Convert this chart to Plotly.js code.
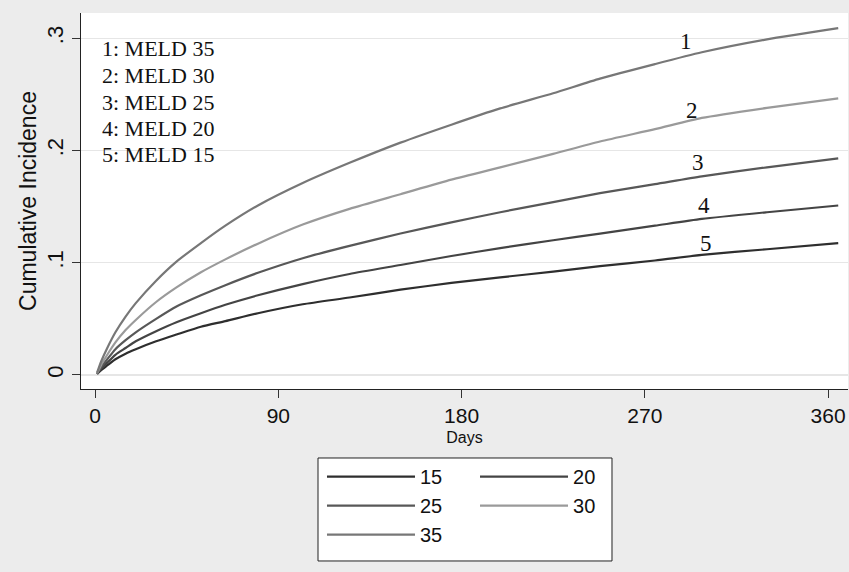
<!DOCTYPE html>
<html>
<head>
<meta charset="utf-8">
<script src="https://cdn.plot.ly/plotly-3.0.1.min.js"></script>
<style>
  html, body { margin: 0; padding: 0; background: #ececec; }
  #chart { width: 849px; height: 572px; }
</style>
</head>
<body>
<div id="chart"></div>
<script>
// Days at which the curves were read
const days = [1, 3, 6, 10, 15, 20, 30, 40, 52, 64, 80, 102, 125, 150, 175, 199, 225, 248, 275, 298, 330, 365];

// Cumulative incidence by MELD score
const meld15 = [0.0008, 0.0043, 0.0085, 0.014, 0.019, 0.023, 0.030, 0.036, 0.043, 0.048, 0.055, 0.063, 0.069, 0.076, 0.082, 0.087, 0.092, 0.097, 0.102, 0.107, 0.112, 0.1175];
const meld20 = [0.001, 0.0055, 0.011, 0.018, 0.024, 0.030, 0.039, 0.047, 0.055, 0.0625, 0.071, 0.081, 0.090, 0.098, 0.106, 0.113, 0.120, 0.126, 0.133, 0.139, 0.145, 0.151];
const meld25 = [0.0012, 0.007, 0.014, 0.023, 0.031, 0.038, 0.050, 0.061, 0.071, 0.080, 0.091, 0.104, 0.115, 0.126, 0.136, 0.145, 0.154, 0.162, 0.170, 0.177, 0.185, 0.193];
const meld30 = [0.0015, 0.009, 0.018, 0.029, 0.040, 0.049, 0.065, 0.078, 0.0915, 0.103, 0.117, 0.134, 0.148, 0.161, 0.174, 0.185, 0.197, 0.208, 0.219, 0.229, 0.238, 0.2465];
const meld35 = [0.002, 0.012, 0.024, 0.038, 0.052, 0.064, 0.084, 0.101, 0.1175, 0.133, 0.151, 0.171, 0.189, 0.207, 0.223, 0.2375, 0.251, 0.264, 0.277, 0.2875, 0.299, 0.309];

const seriesNames = ['15', '20', '25', '30', '35'];
const seriesValues = [meld15, meld20, meld25, meld30, meld35];
const seriesColors = ['#2e2e2e', '#444444', '#585858', '#9a9a9a', '#777777'];
// key column of each series (two-column key: 15 20 / 25 30 / 35)
const seriesKey = ['legend', 'legend2', 'legend', 'legend2', 'legend'];

// Curve number labels (placed just above each curve)
const curveLabels = ['1', '2', '3', '4', '5'];
const curveLabelX = [290, 293, 296, 299, 300];
const curveLabelY = [0.297, 0.2355, 0.189, 0.151, 0.1167];

// Key text
const keyLines = ['1: MELD 35', '2: MELD 30', '3: MELD 25', '4: MELD 20', '5: MELD 15'];
const keyY = [0.2905, 0.267, 0.2432, 0.2196, 0.196];

const yTickVals = [0, 0.1, 0.2, 0.3];
const yTickText = ['0', '.1', '.2', '.3'];
const xTickVals = [0, 90, 180, 270, 360];

const traces = seriesNames.map((n, i) => ({
  type: 'scatter',
  mode: 'lines',
  name: n,
  legend: seriesKey[i],
  x: days,
  y: seriesValues[i],
  line: { color: seriesColors[i], width: 2.2, shape: 'spline', smoothing: 0.6 },
  hoverinfo: 'x+y+name'
}));

const annotations = [];
curveLabels.forEach((t, i) => annotations.push({
  x: curveLabelX[i], y: curveLabelY[i], xref: 'x', yref: 'y',
  text: t, showarrow: false, xanchor: 'center', yanchor: 'middle',
  font: { family: 'Liberation Serif, Times New Roman, serif', size: 23, color: '#111' }
}));
keyLines.forEach((t, i) => annotations.push({
  x: 2.5, y: keyY[i], xref: 'x', yref: 'y',
  text: t, showarrow: false, xanchor: 'left', yanchor: 'middle',
  font: { family: 'Liberation Serif, Times New Roman, serif', size: 22, color: '#111' }
}));

const legendCommon = {
  orientation: 'v',
  yanchor: 'top',
  xanchor: 'left',
  bgcolor: 'rgba(0,0,0,0)',
  borderwidth: 0,
  font: { size: 20, family: 'Liberation Sans, Arial, sans-serif', color: '#111' },
  itemwidth: 88,
  traceorder: 'normal'
};

const layout = {
  width: 849,
  height: 572,
  paper_bgcolor: '#ececec',
  plot_bgcolor: '#ffffff',
  margin: { l: 81, r: 1, t: 13, b: 183 },
  font: { family: 'Liberation Sans, Arial, sans-serif', color: '#111' },
  showlegend: true,
  legend: Object.assign({}, legendCommon, { x: 0.3142, y: -0.181 }),
  legend2: Object.assign({}, legendCommon, { x: 0.5137, y: -0.181 }),
  shapes: [{
    type: 'rect', xref: 'paper', yref: 'paper',
    x0: 0.309, x1: 0.6923, y0: -0.4574, y1: -0.1835,
    fillcolor: '#ffffff', line: { color: '#222', width: 1 }, layer: 'below'
  }],
  xaxis: {
    range: [-6.9, 369.8],
    tickvals: xTickVals,
    ticks: 'outside', ticklen: 8, tickcolor: '#333', tickwidth: 1,
    showline: true, linecolor: '#222', linewidth: 1,
    showgrid: false, zeroline: false,
    tickfont: { size: 21 },
    title: { text: 'Days', font: { size: 16 }, standoff: 5 }
  },
  yaxis: {
    range: [-0.0125, 0.3225],
    tickvals: yTickVals, ticktext: yTickText,
    tickangle: -90,
    ticks: 'outside', ticklen: 8, tickcolor: '#333', tickwidth: 1,
    showline: true, linecolor: '#222', linewidth: 1,
    showgrid: true, gridcolor: '#e6e6e6', gridwidth: 1.5,
    zeroline: false,
    tickfont: { size: 22 },
    title: { text: 'Cumulative Incidence', font: { size: 23 }, standoff: 0 }
  },
  annotations: annotations
};

Plotly.newPlot('chart', traces, layout, { displayModeBar: false, staticPlot: true });
</script>
</body>
</html>
